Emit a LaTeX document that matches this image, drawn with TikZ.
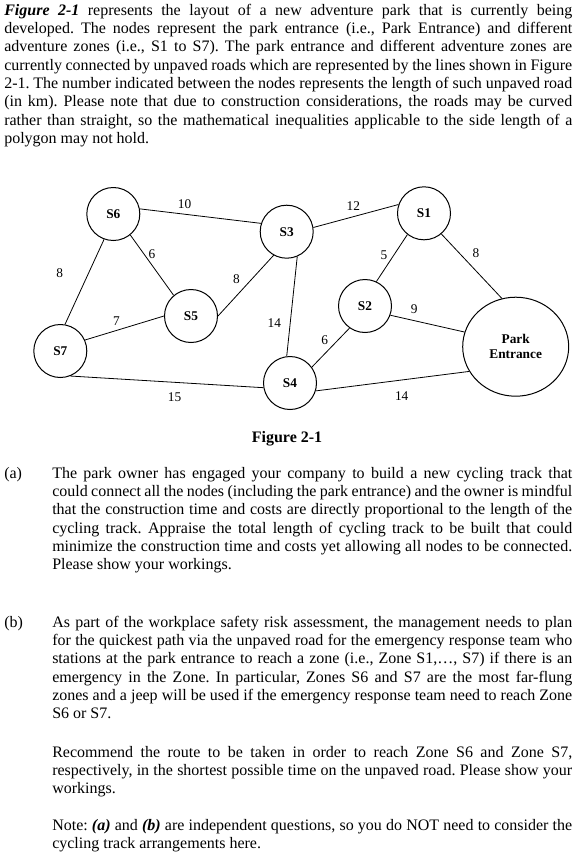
\documentclass[tikz,border=0pt]{standalone}
\usepackage{fontspec}
\setmainfont{Liberation Serif}
\usetikzlibrary{shapes.geometric}
\frenchspacing
\begin{document}
\begin{tikzpicture}[x=0.75pt, y=-0.75pt,
		zone/.style={circle, draw, line width=0.75pt, minimum size=39.75pt, inner sep=0pt, font=\fontsize{10}{12}\selectfont\bfseries},
		gate/.style={ellipse, draw, line width=0.75pt, minimum width=79.5pt, minimum height=74.25pt, inner sep=0pt, align=center, font=\fontsize{10}{11.25}\selectfont\bfseries},
		road/.style={line width=0.6pt},
		wt/.style={inner sep=0pt, font=\fontsize{10}{12}\selectfont},
		txt/.style={anchor=base west, inner sep=0pt, font=\fontsize{12}{13.75}\selectfont},
		block/.style={txt, align=justify}]
	\useasboundingbox (0,0) rectangle (583,857);
	% intro
	\node(intro)[block, text width=426pt] at (4,15){\textbf{\textit{Figure 2-1}} represents the layout of a new adventure park that is currently being\linebreak
		developed. The nodes represent the park entrance (i.e., Park Entrance) and different\linebreak
		adventure zones (i.e., S1 to S7). The park entrance and different adventure zones are\linebreak
		currently connected by unpaved roads which are represented by the lines shown in Figure\linebreak
		2-1. The number indicated between the nodes represents the length of such unpaved road\linebreak
		(in km). Please note that due to construction considerations, the roads may be curved\linebreak
		rather than straight, so the mathematical inequalities applicable to the side length of a\linebreak
		polygon may not hold.};
	% zones
	\node(s6)[zone] at (113.3,214){S6};
	\node(s3)[zone] at (286.7,231.7){S3};
	\node(s1)[zone] at (424,213.3){S1};
	\node(s5)[zone] at (191,316){S5};
	\node(s2)[zone] at (365,306){S2};
	\node(s7)[zone] at (60.3,351){S7};
	\node(s4)[zone] at (290,383){S4};
	\node(pe)[gate] at (515.7,346.7){Park\\Entrance};
	% roads
	\draw[road](s6.11) to node[wt, pos=.37, above=4pt]{10}(s3.162);
	\draw[road](s6.-51) to node[wt, pos=.31, right=3.4pt]{6}(s5.130);
	\draw[road](s6.-110) to node[wt, pos=.4, left=18.7pt]{8}(s7.80);
	\draw[road](s5.0) to node[wt, pos=.33, above=9pt]{8}(s3.241);
	\draw[road](s7.24) to node[wt, pos=.4, above=3.2pt]{7}(s5.180);
	\draw[road](s3.-67) to node[wt, pos=.67, left=6.6pt]{14}(s4.97);
	\draw[road](s7.-68) to node[wt, pos=.54, below=7.2pt]{15}(s4.190);
	\draw[road](s3.9) to node[wt, pos=.47, above=4.3pt]{12}(s1.161);
	\draw[road](s1.-128) to node[wt, pos=.44, left=4.5pt]{5}(s2.65);
	\draw[road](s1.-50) to node[wt, pos=.3, right=9.6pt]{8}(pe.106);
	\draw[road](s2.-20) to node[wt, pos=.32, above=4.9pt]{9}(pe.164);
	\draw[road](s2.-125) to node[wt, pos=.31, left=7.1pt]{6}(s4.36);
	\draw[road](s4.-17) to node[wt, pos=.56, below=8.2pt]{14}(pe.208);
	\node(cap)[txt, anchor=base, font=\fontsize{12}{13.75}\selectfont\bfseries] at (287,442){Figure 2-1};
	% questions
	\node(qa)[txt] at (4,478){(a)};
	\node(ta)[block, text width=390pt] at (52,478){The park owner has engaged your company to build a new cycling track that\linebreak
		could connect all the nodes (including the park entrance) and the owner is mindful\linebreak
		that the construction time and costs are directly proportional to the length of the\linebreak
		cycling track. Appraise the total length of cycling track to be built that could\linebreak
		minimize the construction time and costs yet allowing all nodes to be connected.\linebreak
		Please show your workings.};
	\node(qb)[txt] at (4,627){(b)};
	\node(tb)[block, text width=390pt] at (52,627){As part of the workplace safety risk assessment, the management needs to plan\linebreak
		for the quickest path via the unpaved road for the emergency response team who\linebreak
		stations at the park entrance to reach a zone (i.e., Zone S1,…, S7) if there is an\linebreak
		emergency in the Zone. In particular, Zones S6 and S7 are the most far-flung\linebreak
		zones and a jeep will be used if the emergency response team need to reach Zone\linebreak
		S6 or S7.};
	\node(tc)[block, text width=390pt] at (52,757){Recommend the route to be taken in order to reach Zone S6 and Zone S7,\linebreak
		respectively, in the shortest possible time on the unpaved road. Please show your\linebreak
		workings.};
	\node(td)[block, text width=390pt] at (52,830){Note: \textbf{\textit{(a)}} and \textbf{\textit{(b)}} are independent questions, so you do NOT need to consider the\linebreak
		cycling track arrangements here.};
\end{tikzpicture}
\end{document}
